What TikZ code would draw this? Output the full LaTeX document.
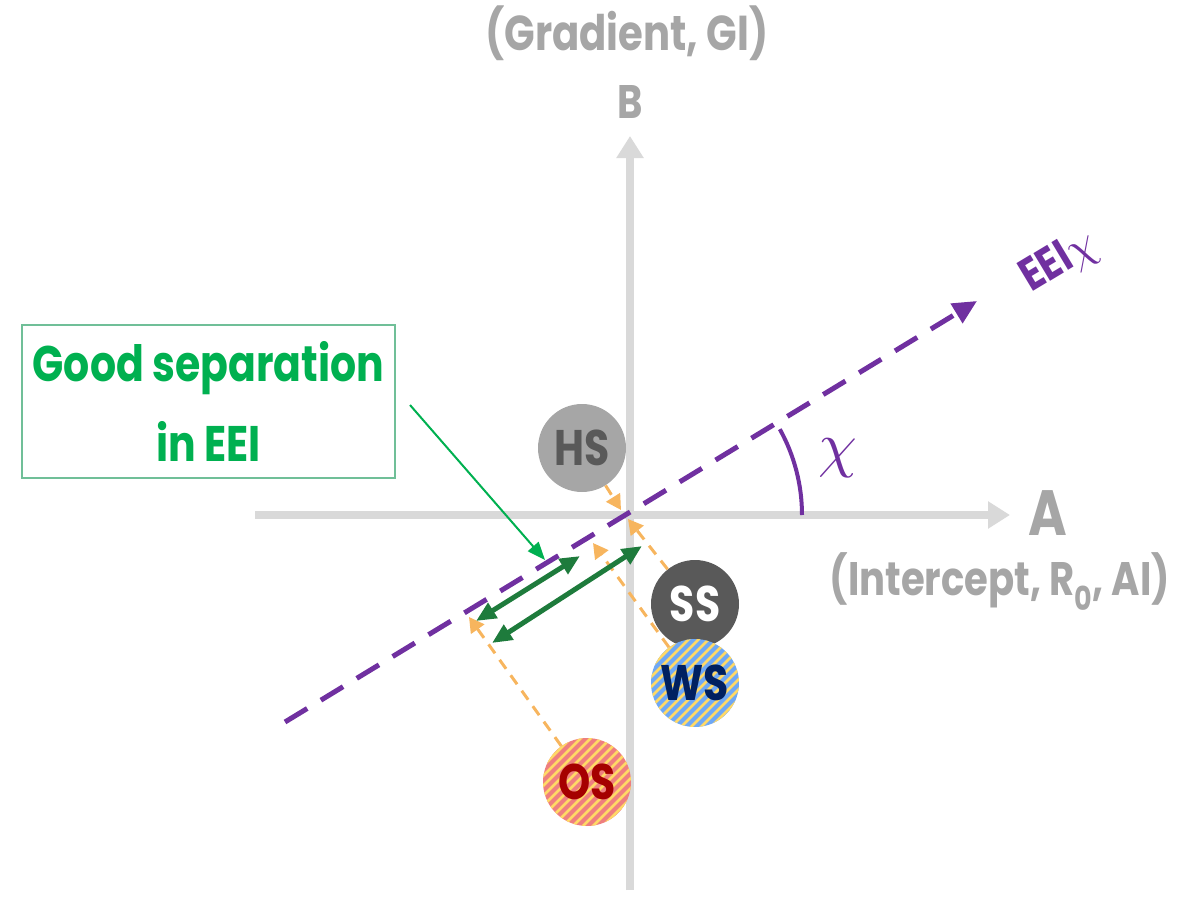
\documentclass[tikz,border=0pt]{standalone}
\usepackage{graphicx}
\usepackage{fontspec}
\newfontfamily\ff{Poppins}[FakeStretch=0.82]
\usetikzlibrary{arrows.meta,calc}
\definecolor{axisgray}{HTML}{D9D9D9}
\definecolor{lblgray}{HTML}{A6A6A6}
\definecolor{purp}{HTML}{7030A0}
\definecolor{dgreen}{HTML}{1E7B3C}
\definecolor{lgreen}{HTML}{00B050}
\definecolor{boxgreen}{HTML}{70BF98}
\definecolor{orng}{HTML}{F7B55E}
\definecolor{hsfill}{HTML}{A6A6A6}
\definecolor{hstext}{HTML}{595959}
\definecolor{ssfill}{HTML}{595959}
\definecolor{wsblue}{HTML}{6FA8F5}
\definecolor{stripey}{HTML}{FFD966}
\definecolor{wstext}{HTML}{002060}
\definecolor{osfill}{HTML}{EE7F7F}
\definecolor{ostext}{HTML}{A50000}
\begin{document}
\begin{tikzpicture}[x=1pt,y=-1pt,
  axisline/.style={draw=axisgray, line width=8pt, -{Triangle[length=22pt,width=26pt]}},
  eeiline/.style={draw=purp, line width=5pt, dash pattern=on 26pt off 16pt, -{Triangle[length=24pt,width=22pt]}},
  proj/.style={draw=orng, line width=3pt, dash pattern=on 11pt off 8pt, -{Triangle[length=15pt,width=16pt]}},
  sep/.style={draw=dgreen, line width=5pt, {Triangle[length=20pt,width=17pt]}-{Triangle[length=20pt,width=17pt]}},
  pointer/.style={draw=lgreen, line width=2pt, -{Triangle[length=18pt,width=14pt]}},
  lbl/.style={font=\ff\bfseries\fontsize{49}{60}\selectfont, text=lblgray, inner sep=0pt},
  facies/.style={circle, minimum size=88pt, inner sep=0pt, font=\ff\bfseries\fontsize{50}{55}\selectfont},
  striped/.style={path picture={
    \foreach \k in {-14,...,14}{
      \draw[stripey, line width=2.6pt]
        ($(path picture bounding box.center)+(\k*10-70,70)$) -- ++(140,-140);
    }}},
]
\useasboundingbox (0,0) rectangle (1186,897);

% axes
\coordinate (o) at (625,515);
\coordinate (xs) at (255,515);
\coordinate (xe) at (1010,515);
\coordinate (ys) at (630,890);
\coordinate (ye) at (630,136);
\draw[axisline] (xs) -- (xe);
\draw[axisline] (ys) -- (ye);

% axis labels
\node[lbl, anchor=base, font=\ff\bfseries\fontsize{64}{70}\selectfont] (A) at (1048,535) {A};
\node[lbl, anchor=base, font=\ff\bfseries\fontsize{47}{60}\selectfont] (Alab) at (1000,595) {(Intercept, R\textsubscript{0}, AI)};
\node[lbl, anchor=base, font=\ff\bfseries\fontsize{47}{55}\selectfont] (B) at (630,118) {B};
\node[lbl, anchor=base] (Blab) at (627,50) {(Gradient, GI)};

% EEI line
\coordinate (es) at (285,722);
\coordinate (ee) at (977,301);
\draw[eeiline] (es) -- (ee);
\node[text=purp, rotate=31, inner sep=0pt] (eeilab) at (1060,262)
  {{\ff\bfseries\fontsize{46}{50}\selectfont EEI}\scalebox{4.6}{$\chi$}};

% angle
\draw[purp, line width=4pt] ($(o)+(177,0)$) arc[start angle=0, end angle=-29, radius=177];
\node[text=purp, inner sep=0pt] (chi) at (838,458) {\scalebox{6.2}{$\chi$}};

% projection targets
\coordinate (hsT) at (621,510);
\coordinate (ssT) at (628,519);
\coordinate (wsT) at (593,543);
\coordinate (osT) at (469,617);

% facies circles
\node[facies, fill=hsfill, text=hstext] (hs) at (582,448) {HS};
\node[facies, fill=ssfill, text=white] (ss) at (695,604) {SS};
\node[facies, fill=wsblue, text=wstext, striped] (ws) at (695,683) {WS};
\node[facies, fill=osfill, text=ostext, striped] (os) at (587,782) {OS};

\draw[proj] (hs) -- (hsT);
\draw[proj] (ss) -- (ssT);
\draw[proj] (ws) -- (wsT);
\draw[proj] (os) -- (osT);

% separation arrows
\coordinate (s1a) at (476,621);
\coordinate (s1b) at (580,556);
\coordinate (s2a) at (492,643);
\coordinate (s2b) at (642,546);
\draw[sep] (s1a) -- (s1b);
\draw[sep] (s2a) -- (s2b);

% annotation box
\node[draw=boxgreen, line width=1.5pt, minimum width=373pt, minimum height=153pt,
      align=center, text=lgreen, inner sep=0pt,
      font=\ff\bfseries\fontsize{50}{80}\selectfont] (box) at (208.5,401.5)
  {Good separation\\in EEI};
\coordinate (pstart) at (410,405);
\coordinate (pend) at (545,560);
\draw[pointer] (pstart) -- (pend);
\end{tikzpicture}
\end{document}
